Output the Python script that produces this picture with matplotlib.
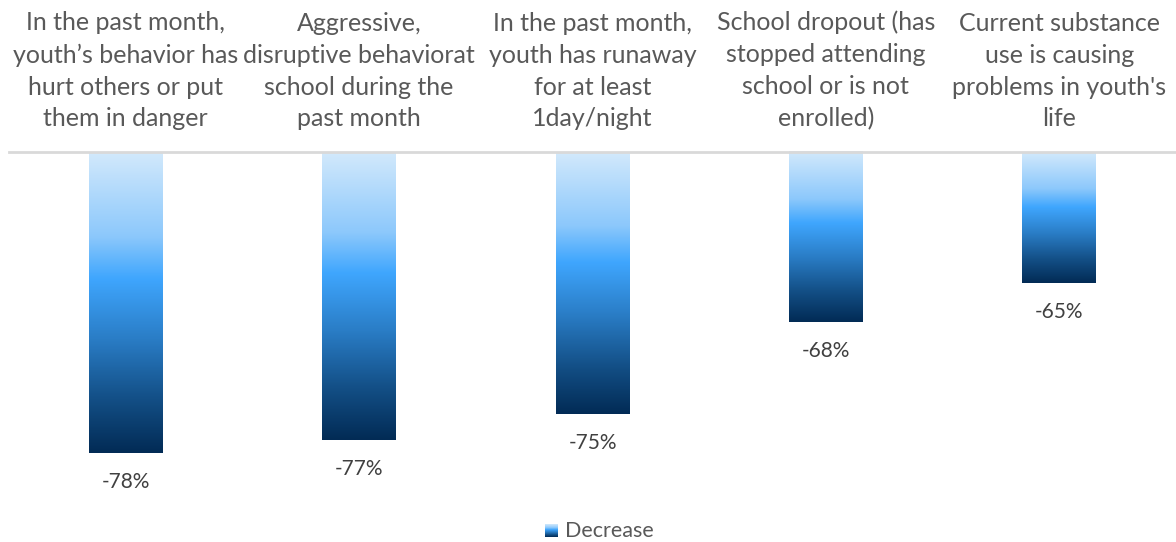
import matplotlib
matplotlib.use("Agg")
import matplotlib.pyplot as plt
import numpy as np
from matplotlib.colors import LinearSegmentedColormap

categories = [
    "In the past month,\nyouth\u2019s behavior has\nhurt others or put\nthem in danger",
    "Aggressive,\ndisruptive behaviorat\nschool during the\npast month",
    "In the past month,\nyouth has runaway\nfor at least\n1day/night",
    "School dropout (has\nstopped attending\nschool or is not\nenrolled)",
    "Current substance\nuse is causing\nproblems in youth's\nlife",
]
values = [-78, -77, -75, -68, -65]
value_labels = ["-78%", "-77%", "-75%", "-68%", "-65%"]
series_name = "Decrease"

plt.rcParams['font.family'] = ['Lato', 'DejaVu Sans']

W, H = 1176, 542
fig = plt.figure(figsize=(W / 100, H / 100), dpi=100)
top_px, bot_px, left_px, right_px = 152, 480, 9, 1176
ax = fig.add_axes([left_px / W, 1 - bot_px / H, (right_px - left_px) / W, (bot_px - top_px) / H])
ymax = -55.0
ymin = ymax - (bot_px - top_px) / 13.08
ax.set_xlim(-0.5, len(values) - 0.5)
ax.set_ylim(ymin, ymax)
ax.axis('off')

cmap = LinearSegmentedColormap.from_list(
    "grad", [(0.0, "#d2e9fc"), (0.28, "#8cc8fb"), (0.42, "#3fa6fe"), (0.62, "#2a7dc6"),
             (0.82, "#134f86"), (1.0, "#022b55")])
grad = np.linspace(0, 1, 256).reshape(-1, 1)

x = np.arange(len(values))
width = 0.317
bars = ax.bar(x, values, width=width, color='none', edgecolor='none')
for b, v in zip(bars, values):
    x0 = b.get_x()
    im = ax.imshow(grad, cmap=cmap, aspect='auto', extent=[x0, x0 + width, v, ymax],
                   origin='upper', zorder=2)
    im.set_clip_path(b)

# baseline
ax.plot([0, 1], [1, 1], transform=ax.transAxes, color='#d9d9d9', lw=2, clip_on=False, zorder=3)

for xi, v, lab in zip(x, values, value_labels):
    ax.annotate(lab, (xi, v), xytext=(0, -21), textcoords='offset points',
                ha='center', va='center', fontsize=15, color='#404040')

for xi, c in zip(x, categories):
    ax.annotate(c, (xi, 1.0), xycoords=ax.get_xaxis_transform(), xytext=(0, 15.5),
                textcoords='offset points', ha='center', va='bottom', fontsize=18,
                color='#595959', linespacing=1.47, annotation_clip=False)

# legend
sw = fig.add_axes([545 / W, 1 - 537 / H, 13 / W, 13 / H])
sw.imshow(grad, cmap=cmap, aspect='auto')
sw.axis('off')
fig.text(565 / W, 1 - 531 / H, series_name, ha='left', va='center', fontsize=15.5, color='#595959')

fig.savefig("out.png", dpi=100)
